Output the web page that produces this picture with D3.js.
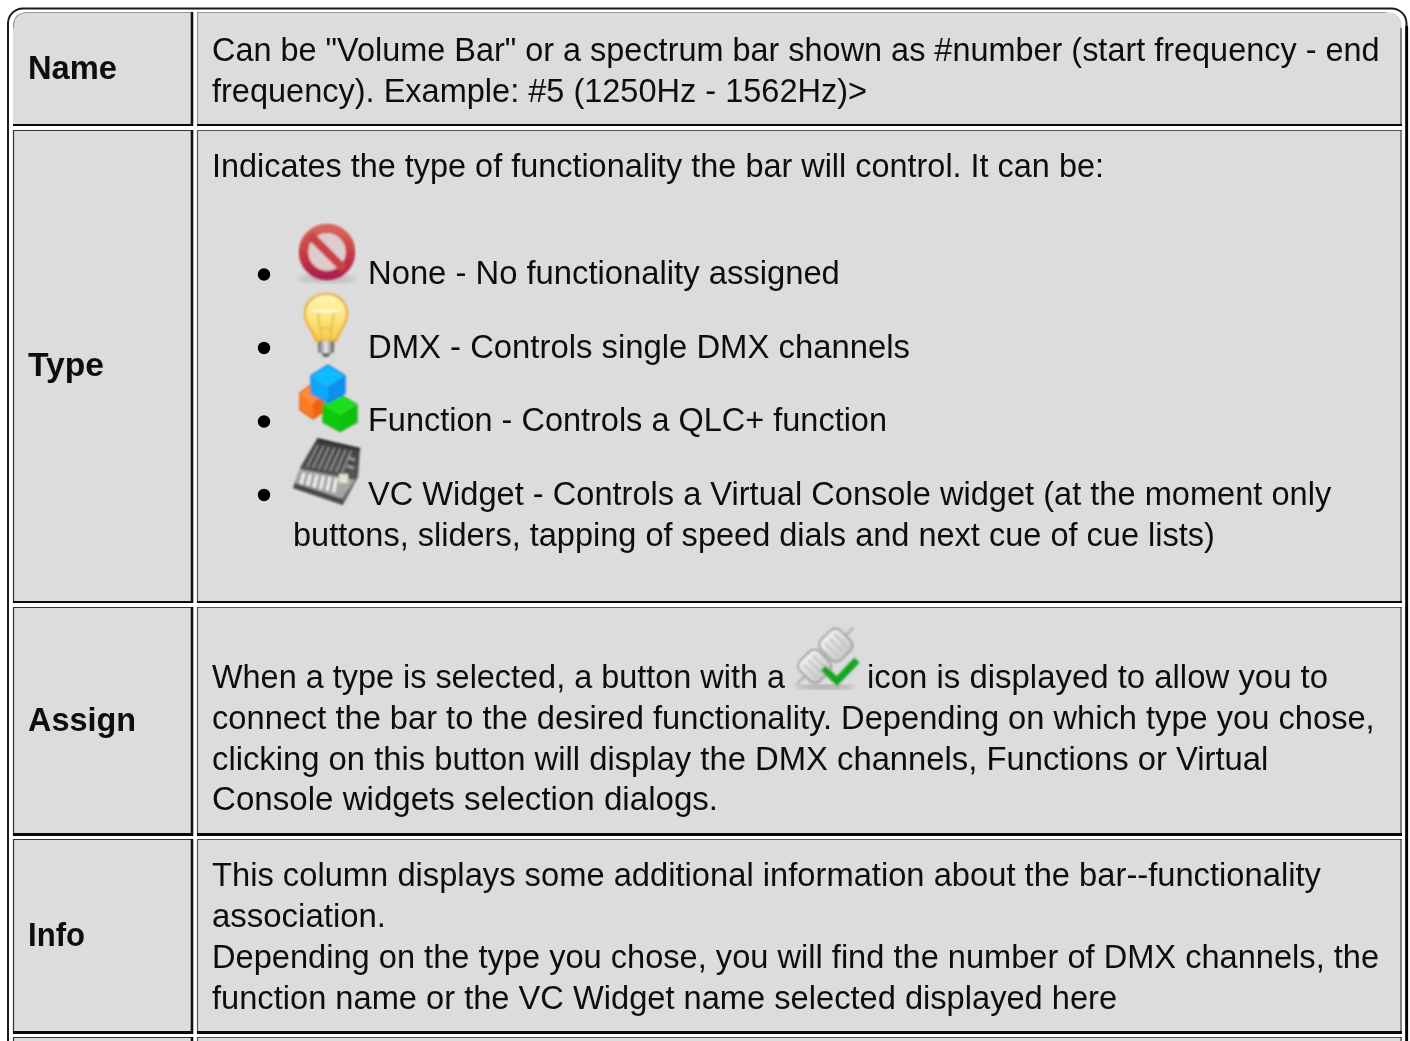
<!DOCTYPE html>
<html>
<head>
<meta charset="utf-8">
<script src="https://cdnjs.cloudflare.com/ajax/libs/d3/7.8.5/d3.min.js"></script>
<style>
html, body { margin: 0; padding: 0; background: #fff; overflow: hidden; }
svg { display: block; }
text { font-family: "Liberation Sans", Arial, sans-serif; fill: #111; }
</style>
</head>
<body>
<script>
const rowLabels = ['Name', 'Type', 'Assign', 'Info', '']
const nameLines = [
  'Can be "Volume Bar" or a spectrum bar shown as #number (start frequency - end',
  'frequency). Example: #5 (1250Hz - 1562Hz)>'
]
const typeLines = [
  'Indicates the type of functionality the bar will control. It can be:'
]
const typeItems = [
  'None - No functionality assigned',
  'DMX - Controls single DMX channels',
  'Function - Controls a QLC+ function',
  'VC Widget - Controls a Virtual Console widget (at the moment only'
]
const typeTail = 'buttons, sliders, tapping of speed dials and next cue of cue lists)'
const assignHead = ['When a type is selected, a button with a', 'icon is displayed to allow you to']
const assignLines = [
  'connect the bar to the desired functionality. Depending on which type you chose,',
  'clicking on this button will display the DMX channels, Functions or Virtual',
  'Console widgets selection dialogs.'
]
const infoLines = [
  'This column displays some additional information about the bar--functionality',
  'association.',
  'Depending on the type you chose, you will find the number of DMX channels, the',
  'function name or the VC Widget name selected displayed here'
]

// layout
const W = 1410, H = 1041
const rowTop = d3.scaleOrdinal(rowLabels, [12, 130, 607, 839, 1037])
const rowBottom = d3.scaleOrdinal(rowLabels, [126, 603, 836, 1034, 1100])
const labelBase = d3.scaleOrdinal(rowLabels, [79, 376, 731, 946, 1100])
const labelEnd = d3.scaleOrdinal(rowLabels, [117, 104, 136, 85, 0])
const col = { x0: 13, x1: 193, x2: 197, x3: 1402 }
const textX = 212, labelX = 28, fs = 33.4

const svg = d3.select('body').append('svg').attr('width', W).attr('height', H)

const defs = svg.append('defs')
defs.append('filter').attr('id', 'soft').append('feGaussianBlur').attr('stdDeviation', 0.8)
defs.append('filter').attr('id', 'shade').append('feGaussianBlur').attr('stdDeviation', 2.5)
defs.append('filter').attr('id', 'txt').attr('x', '-2%').attr('y', '-20%').attr('width', '104%').attr('height', '140%')
  .append('feGaussianBlur').attr('stdDeviation', 0.35)
function grad(id, stops, horiz) {
  const g = defs.append('linearGradient').attr('id', id)
    .attr('x1', 0).attr('y1', 0).attr('x2', horiz ? 1 : 0).attr('y2', horiz ? 0 : 1)
  stops.forEach((c, i) => g.append('stop').attr('offset', i / (stops.length - 1)).attr('stop-color', c))
}
grad('redG', ['#d8645c', '#c93c42', '#ae1f4c'])
grad('bulbG', ['#fff6b8', '#fde67e', '#f5c948'])
grad('baseG', ['#666', '#eee', '#555'], true)
grad('plugG', ['#f2f2f2', '#c8c8c8'])
grad('panelG', ['#3a3a3a', '#6a6a6a'])

// outer frame, heavier on the right
svg.append('rect')
  .attr('x', 8).attr('y', 8.5).attr('width', 1398.5).attr('height', 1100).attr('rx', 15)
  .attr('fill', '#fff').attr('stroke', '#1a1a1a').attr('stroke-width', 2)
svg.append('line').attr('x1', 1406.7).attr('x2', 1406.7).attr('y1', 26).attr('y2', H)
  .attr('stroke', '#000').attr('stroke-width', 2.8)

// cells
function cellPath(x0, y0, x1, y1, rl, rr) {
  const p = d3.path()
  p.moveTo(x0, y1)
  p.lineTo(x0, y0 + rl)
  if (rl) p.quadraticCurveTo(x0, y0, x0 + rl, y0)
  p.lineTo(x1 - rr, y0)
  if (rr) p.quadraticCurveTo(x1, y0, x1, y0 + rr)
  p.lineTo(x1, y1)
  p.closePath()
  return p.toString()
}

// the reference's hinted text runs narrower than the plain font, so each line is squeezed to its end
function fit(sel, x, y, endX) {
  const k = (endX - x) / sel.node().getComputedTextLength()
  return sel.attr('transform', `translate(${x},${y}) scale(${k},1)`).attr('filter', 'url(#txt)')
}

rowLabels.forEach((label, i) => {
  const t = rowTop(label), b = rowBottom(label)
  const g = svg.append('g')
  ;[[col.x0, col.x1, 16, 0], [col.x2, col.x3, 0, 16]].forEach(([a, c, rl, rr], k) => {
    const l = i === 0 ? rl : 0, r = i === 0 ? rr : 0
    g.append('path').attr('d', cellPath(a, t, c, b, l, r)).attr('fill', '#dcdcdc')
    // thin top and left edge, heavy bottom edge
    const edge = d3.path()
    edge.moveTo(a + .5, l ? t + l : b)
    edge.lineTo(a + .5, t + (l || .5))
    if (l) edge.quadraticCurveTo(a, t, a + l, t + .5)
    edge.lineTo(c - (r || 0), t + .5)
    g.append('path').attr('d', edge.toString()).attr('fill', 'none')
      .attr('stroke', i === 0 ? '#999' : (k === 1 ? '#555' : '#333')).attr('stroke-width', 1.2)
    g.append('line').attr('x1', c - 1).attr('x2', c - 1).attr('y1', t + (r || 0)).attr('y2', b)
      .attr('stroke', k === 0 ? '#111' : '#444').attr('stroke-width', k === 0 ? 2.6 : 1.2)
    const heavy = i >= 2 ? 3 : 2
    g.append('line').attr('x1', a).attr('x2', c).attr('y1', b - heavy / 2).attr('y2', b - heavy / 2)
      .attr('stroke', '#0a0a0a').attr('stroke-width', heavy)
  })
  if (label) {
    fit(g.append('text').attr('font-size', fs).attr('font-weight', 700).text(label),
      labelX, labelBase(label), labelEnd(label))
  }
})

function line(str, x, y, endX) {
  return fit(svg.append('text').attr('font-size', fs).text(str), x, y, endX)
}

const nameBase = [61, 101.5], nameEnds = [1380, 867]
nameLines.forEach((s, i) => line(s, textX, nameBase[i], nameEnds[i]))
const typeEnds = [1104]
typeLines.forEach((s, i) => line(s, textX, 177, typeEnds[i]))

const itemBase = [284, 358, 431, 505]
const dotY = [274.5, 348, 421.5, 495]
const itemEnds = [840, 910, 887, 1331]
typeItems.forEach((s, i) => {
  svg.append('circle').attr('cx', 264).attr('cy', dotY[i]).attr('r', 6.2).attr('fill', '#000')
  line(s, 368, itemBase[i], itemEnds[i])
})
line(typeTail, 293, 546, 1215)

line(assignHead[0], textX, 688, 785)
line(assignHead[1], 867, 688, 1328)
const assignBase = [729, 770, 810], assignEnds = [1375, 1269, 718]
assignLines.forEach((s, i) => line(s, textX, assignBase[i], assignEnds[i]))
const infoBase = [886, 927, 968, 1009], infoEnds = [1321, 386, 1379, 1117]
infoLines.forEach((s, i) => line(s, textX, infoBase[i], infoEnds[i]))

// icons
function iconNone(x, y) {
  const g = svg.append('g').attr('transform', `translate(${x},${y})`)
  g.append('ellipse').attr('cx', 0).attr('cy', 27).attr('rx', 29).attr('ry', 4)
    .attr('fill', '#aaa').attr('opacity', .6).attr('filter', 'url(#shade)')
  const s = g.append('g').attr('filter', 'url(#soft)')
  s.append('circle').attr('r', 23.5).attr('fill', '#e0cccc').attr('stroke', 'url(#redG)').attr('stroke-width', 9.5)
  s.append('line').attr('x1', -17).attr('y1', -17).attr('x2', 17.01).attr('y2', 17)
    .attr('stroke', '#c9434a').attr('stroke-width', 8.5)
}
function iconBulb(x, y) {
  const g = svg.append('g').attr('transform', `translate(${x},${y})`).attr('filter', 'url(#soft)')
  g.append('path')
    .attr('d', 'M-10,16 C-12,7 -21,0 -21,-11 C-21,-24 -11,-31 0,-31 C11,-31 21,-24 21,-11 C21,0 12,7 10,16 Z')
    .attr('fill', 'url(#bulbG)').attr('stroke', '#eda820').attr('stroke-width', 2)
  g.append('path').attr('d', 'M-13,-14 H13').attr('stroke', '#fffde8').attr('stroke-width', 2)
  g.append('path').attr('d', 'M-8,-12 L-4,15 M8,-12 L4,15 M-5,3 H5').attr('stroke', '#d9bb55')
    .attr('stroke-width', 1.5).attr('fill', 'none')
  g.append('rect').attr('x', -8).attr('y', 16).attr('width', 16).attr('height', 12).attr('rx', 2).attr('fill', 'url(#baseG)')
  g.append('path').attr('d', 'M-5,28 H5 L2,32 H-2 Z').attr('fill', '#666')
}
function cube(g, cx, cy, rx, ry, top, left, right, edge) {
  g.append('path').attr('d', `M${cx},${cy - ry} L${cx + rx},${cy - ry * .45} L${cx},${cy + ry * .1} L${cx - rx},${cy - ry * .45} Z`).attr('fill', top)
  g.append('path').attr('d', `M${cx - rx},${cy - ry * .45} L${cx},${cy + ry * .1} V${cy + ry} L${cx - rx},${cy + ry * .5} Z`).attr('fill', left)
  g.append('path').attr('d', `M${cx + rx},${cy - ry * .45} L${cx},${cy + ry * .1} V${cy + ry} L${cx + rx},${cy + ry * .5} Z`).attr('fill', right)
  g.append('path').attr('d', `M${cx},${cy - ry} L${cx + rx},${cy - ry * .45} V${cy + ry * .5} L${cx},${cy + ry} L${cx - rx},${cy + ry * .5} V${cy - ry * .45} Z`)
    .attr('fill', 'none').attr('stroke', edge).attr('stroke-width', 1.2).attr('stroke-linejoin', 'round')
}
function iconCubes(x, y) {
  const g = svg.append('g').attr('transform', `translate(${x},${y})`).attr('filter', 'url(#soft)')
  cube(g, -14, 2, 13, 18, '#ff8a3c', '#ff7a24', '#f06410', '#e85808')
  cube(g, 13, 14, 17, 18.5, '#1ee01e', '#10c810', '#10c010', '#08b008')
  cube(g, 1, -15, 17, 19, '#10bcff', '#08a8fc', '#0a90f0', '#1078e0')
}
function iconMixer(x, y) {
  const g = svg.append('g').attr('transform', `translate(${x},${y})`).attr('filter', 'url(#soft)')
  g.append('path').attr('d', 'M-10,-33 L33,-23 L31,5 L16,33 L-34,16 L-26,-6 Z').attr('fill', 'url(#panelG)')
  // light lower deck with the row of knobs
  g.append('path').attr('d', 'M-27,-3 L28,8 L14,28 L-32,13 Z').attr('fill', '#a6a6a6')
  g.append('path').attr('d', 'M-34,16 L16,33 L16,27 L-32,11 Z').attr('fill', '#484848')
  g.append('path').attr('d', 'M-10,-33 L33,-23').attr('stroke', '#222').attr('stroke-width', 2)
  d3.range(7).forEach(i => {
    g.append('line').attr('x1', -9 + i * 5.5).attr('y1', -27 + i).attr('x2', -20 + i * 5.8).attr('y2', -5 + i)
      .attr('stroke', '#9a9a9a').attr('stroke-width', 1.6)
  })
  d3.range(6).forEach(i => {
    g.append('line').attr('x1', -23 + i * 6.5).attr('y1', 1 + i).attr('x2', -26 + i * 6.5).attr('y2', 12 + i * 1.7)
      .attr('stroke', '#f2f2f2').attr('stroke-width', 3)
  })
  g.append('rect').attr('x', 12).attr('y', 2).attr('width', 9).attr('height', 9).attr('fill', '#dfe6cc')
  g.append('path').attr('d', 'M22,-14 L28,-12 M20,-6 L27,-4').attr('stroke', '#aaa').attr('stroke-width', 2)
}
function iconAssign(x, y) {
  const g = svg.append('g').attr('transform', `translate(${x},${y})`)
  g.append('ellipse').attr('cx', 0).attr('cy', 31).attr('rx', 30).attr('ry', 2.2).attr('fill', '#888').attr('opacity', .7).attr('filter', 'url(#shade)')
  const s = g.append('g').attr('filter', 'url(#soft)')
  const r = s.append('g').attr('transform', 'rotate(-45)')
  r.append('line').attr('x1', -40).attr('y1', 0).attr('x2', 40).attr('y2', 0).attr('stroke', '#aaa').attr('stroke-width', 2)
  ;[-28, 2].forEach(ox => {
    r.append('rect').attr('x', ox).attr('y', -14).attr('width', 27).attr('height', 28).attr('rx', 7)
      .attr('fill', 'url(#plugG)').attr('stroke', '#9a9a9a').attr('stroke-width', 1.8)
    d3.range(3).forEach(k => r.append('line').attr('x1', ox + 7 + k * 6.5).attr('y1', -9).attr('x2', ox + 7 + k * 6.5).attr('y2', 9)
      .attr('stroke', '#c4c4c4').attr('stroke-width', 2.4))
  })
  s.append('path').attr('d', 'M-2,12 L12,25 L32,4').attr('fill', 'none').attr('stroke', '#12a520').attr('stroke-width', 7)
}

iconNone(327, 252)
iconBulb(326, 325)
iconCubes(327, 399)
iconMixer(327, 472)
iconAssign(825, 656)
</script>
</body>
</html>
